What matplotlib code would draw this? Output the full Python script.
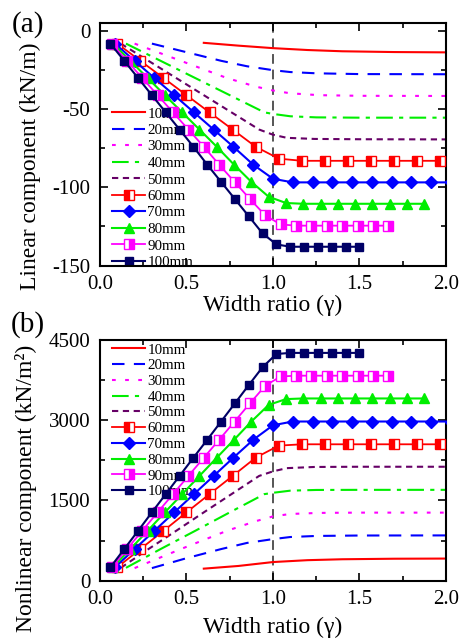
import matplotlib
matplotlib.use('Agg')
import matplotlib.pyplot as plt
from matplotlib.ticker import MultipleLocator

plt.rcParams['font.family'] = ['Liberation Serif', 'DejaVu Serif']
plt.rcParams['axes.unicode_minus'] = False

labels = ['10mm', '20mm', '30mm', '40mm', '50mm', '60mm', '70mm', '80mm', '90mm', '100mm']

# ---------------- width ratio (gamma) values ----------------
x10 = [0.60, 0.80, 1.00, 1.20, 1.40, 1.70, 2.00]
x20 = [0.30, 0.50, 0.70, 0.85, 1.00, 1.10, 1.25, 1.50, 2.00]
x30 = [0.20, 0.467, 0.733, 0.90, 1.00, 1.10, 1.267, 1.50, 2.00]
x40 = [0.15, 0.35, 0.55, 0.75, 0.95, 1.00, 1.10, 1.25, 1.50, 2.00]
x50 = [0.12, 0.28, 0.44, 0.60, 0.76, 0.92, 1.00, 1.08, 1.24, 1.50, 2.00]
x60 = [0.10, 0.233, 0.367, 0.50, 0.633, 0.767, 0.90, 1.033, 1.167, 1.30, 1.433, 1.567, 1.70, 1.833, 1.967, 2.10]
x70 = [0.086, 0.20, 0.314, 0.429, 0.543, 0.657, 0.771, 0.886, 1.00, 1.114, 1.229, 1.343, 1.457, 1.571, 1.686, 1.80, 1.914, 2.029]
x80 = [0.075, 0.175, 0.275, 0.375, 0.475, 0.575, 0.675, 0.775, 0.875, 0.975, 1.075, 1.175, 1.275, 1.375, 1.475, 1.575, 1.675, 1.775, 1.875]
x90 = [0.067, 0.156, 0.244, 0.333, 0.422, 0.511, 0.600, 0.689, 0.778, 0.867, 0.956, 1.044, 1.133, 1.222, 1.311, 1.400, 1.489, 1.578, 1.667]
x100 = [0.06, 0.14, 0.22, 0.30, 0.38, 0.46, 0.54, 0.62, 0.70, 0.78, 0.86, 0.94, 1.02, 1.10, 1.18, 1.26, 1.34, 1.42, 1.50]

# ---------------- (a) linear component (kN/m) ----------------
lin10 = [-7.5, -9.3, -10.9, -12.1, -12.9, -13.4, -13.6]
lin20 = [-8, -13.5, -19, -22.5, -25, -26.2, -27, -27.5, -27.6]
lin30 = [-8, -19, -30, -35.5, -38, -39.8, -41, -41.4, -41.5]
lin40 = [-8, -19, -30, -41, -52, -53, -54.5, -55.2, -55.4, -55.4]
lin50 = [-8, -19, -30, -41, -52, -63, -66.3, -68.3, -69, -69.2, -69.3]
lin60 = [-8, -19, -30, -41, -52, -63, -74, -81.6, -83, -83, -83, -83, -83, -83, -83, -83]
lin70 = [-8, -19, -30, -41, -52, -63, -74, -85.5, -94.5, -96.8, -96.8, -96.8, -96.8, -96.8, -96.8, -96.8, -96.8, -96.8]
lin80 = [-8, -19, -30, -41, -52, -63, -74, -85.5, -96.5, -106, -110, -110.5, -110.5, -110.5, -110.5, -110.5, -110.5, -110.5, -110.5]
lin90 = [-8, -19, -30, -41, -52, -63, -74, -85.5, -96.5, -107.5, -118, -123.7, -124.5, -124.5, -124.5, -124.5, -124.5, -124.5, -124.5]
lin100 = [-8, -19, -30, -41, -52, -63, -74, -85.5, -96.5, -107.5, -118.5, -129.5, -136.5, -138, -138, -138, -138, -138, -138]

# ---------------- (b) nonlinear component (kN/m^2) ----------------
nl10 = [225, 275, 348, 383, 400, 410, 413]
nl20 = [235, 420, 590, 705, 776, 815, 835, 843, 845]
nl30 = [235, 590, 930, 1110, 1200, 1245, 1265, 1270, 1270]
nl40 = [240, 590, 930, 1275, 1615, 1640, 1680, 1693, 1695, 1695]
nl50 = [240, 590, 930, 1275, 1615, 1955, 2040, 2100, 2122, 2126, 2126]
nl60 = [250, 590, 930, 1275, 1615, 1955, 2295, 2520, 2545, 2545, 2545, 2545, 2545, 2545, 2545, 2545]
nl70 = [250, 590, 930, 1275, 1615, 1955, 2295, 2630, 2900, 2970, 2970, 2970, 2970, 2970, 2970, 2970, 2970, 2970]
nl80 = [250, 590, 930, 1275, 1615, 1955, 2295, 2630, 2970, 3280, 3388, 3400, 3400, 3400, 3400, 3400, 3400, 3400, 3400]
nl90 = [250, 590, 930, 1275, 1615, 1955, 2295, 2630, 2970, 3310, 3640, 3810, 3825, 3825, 3825, 3825, 3825, 3825, 3825]
nl100 = [250, 590, 930, 1275, 1615, 1955, 2295, 2630, 2970, 3310, 3650, 3985, 4230, 4250, 4250, 4250, 4250, 4250, 4250]

xs = [x10, x20, x30, x40, x50, x60, x70, x80, x90, x100]
lin = [lin10, lin20, lin30, lin40, lin50, lin60, lin70, lin80, lin90, lin100]
nl = [nl10, nl20, nl30, nl40, nl50, nl60, nl70, nl80, nl90, nl100]

RED, BLUE, MAG, GRN, PUR, NAVY = '#FF0000', '#0000FF', '#FF00FF', '#00EE00', '#660066', '#000066'
styles = [
    dict(color=RED, ls='-', lw=1.5),
    dict(color=BLUE, ls=(0, (6, 4.5)), lw=1.5),
    dict(color=MAG, ls=(0, (1.8, 4.5)), lw=1.5),
    dict(color=GRN, ls=(0, (8, 3, 2, 3)), lw=1.5),
    dict(color=PUR, ls=(0, (3, 2.2)), lw=1.5),
    dict(color=RED, ls='-', lw=1.3, marker='s', ms=6.5, fillstyle='left', mfc=RED,
         markerfacecoloralt='white', mec=RED, mew=1.0),
    dict(color=BLUE, ls='-', lw=1.5, marker='D', ms=6.0, mfc=BLUE, mec=BLUE),
    dict(color=GRN, ls='-', lw=1.5, marker='^', ms=7.5, mfc=GRN, mec=GRN),
    dict(color=MAG, ls='-', lw=1.3, marker='s', ms=6.5, fillstyle='right', mfc=MAG,
         markerfacecoloralt='white', mec=MAG, mew=1.0),
    dict(color=NAVY, ls='-', lw=1.5, marker='s', ms=6.0, mfc=NAVY, mec=NAVY),
]

fig = plt.figure(figsize=(4.6, 6.44), dpi=100)
W, H = 460.0, 644.0
axA = fig.add_axes([100 / W, 1 - 265.5 / H, 346 / W, 242.2 / H])
axB = fig.add_axes([100 / W, 1 - 580.7 / H, 346 / W, 241.2 / H])


def style_axis(ax):
    ax.set_xlim(0, 2)
    ax.xaxis.set_major_locator(MultipleLocator(0.5))
    ax.xaxis.set_minor_locator(MultipleLocator(0.25))
    ax.tick_params(which='both', direction='in', top=True, right=True,
                   labelsize=15, width=1.2)
    ax.tick_params(which='major', length=6, pad=7)
    ax.tick_params(which='minor', length=3.5)
    for s in ax.spines.values():
        s.set_linewidth(1.5)
    ax.axvline(1.0, color='#555555', ls=(0, (5, 3)), lw=1.4, zorder=1)


def draw(ax, ys, leg_top, spacing):
    handles = []
    for i in range(10):
        h, = ax.plot(xs[i], ys[i], label=labels[i], zorder=3 if i >= 5 else 2, **styles[i])
        handles.append(h)
    leg = ax.legend(handles=handles, loc='upper left', bbox_to_anchor=(112 / W, 1 - leg_top / H),
                    bbox_transform=fig.transFigure, frameon=False, fontsize=10.8,
                    handlelength=2.2, handletextpad=0.15, labelspacing=spacing,
                    borderpad=0, borderaxespad=0, numpoints=1)
    leg.set_zorder(1.5)


style_axis(axA)
axA.set_ylim(-150, 5)
axA.yaxis.set_major_locator(MultipleLocator(50))
axA.yaxis.set_minor_locator(MultipleLocator(25))
draw(axA, lin, 107, 0.2)

style_axis(axB)
axB.set_ylim(0, 4500)
axB.yaxis.set_major_locator(MultipleLocator(1500))
axB.yaxis.set_minor_locator(MultipleLocator(750))
draw(axB, nl, 343, 0.15)

fig.text(273 / W, 1 - 305 / H, 'Width ratio (γ)', ha='center', va='center', fontsize=17)
fig.text(273 / W, 1 - 627 / H, 'Width ratio (γ)', ha='center', va='center', fontsize=17)
fig.text(30 / W, 1 - 166 / H, 'Linear component (kN/m)', rotation=90,
         ha='center', va='center', fontsize=17)
fig.text(26 / W, 1 - 488 / H, 'Nonlinear component (kN/m²)', rotation=90,
         ha='center', va='center', fontsize=17)
fig.text(28 / W, 1 - 25 / H, '(a)', ha='center', va='center', fontsize=21)
fig.text(28 / W, 1 - 325 / H, '(b)', ha='center', va='center', fontsize=21)

fig.savefig('out.png', dpi=100)
